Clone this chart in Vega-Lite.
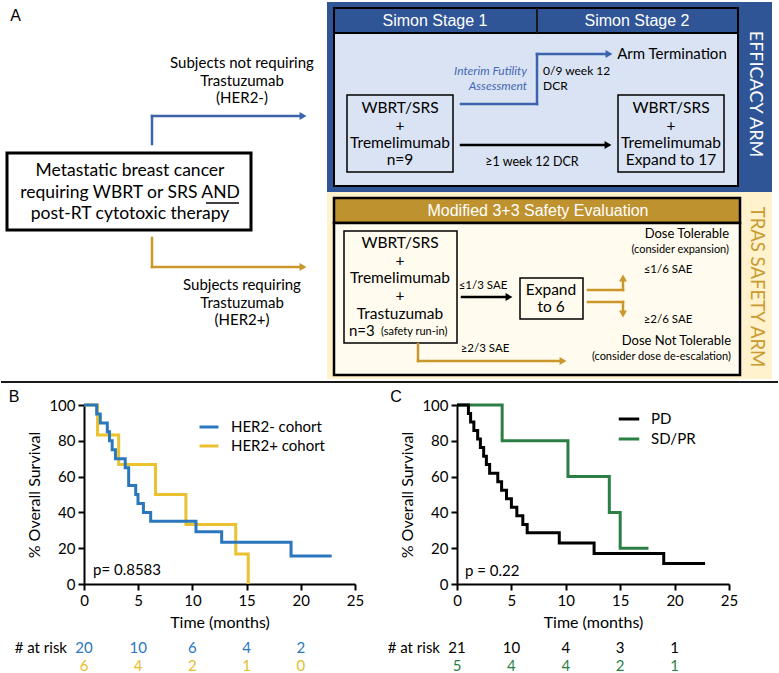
{
  "$schema": "https://vega.github.io/schema/vega-lite/v6.json",
  "background": "white",
  "padding": {"left": 0, "top": 1, "right": 3, "bottom": 3},
  "config": {
    "view": {"stroke": null},
    "font": "Lato",
    "axis": {"domainColor": "black", "domainWidth": 2, "tickColor": "black", "tickWidth": 2, "tickSize": 6, "grid": false, "labelColor": "black", "labelFont": "Lato", "labelFontSize": 15, "titleFont": "Lato", "titleFontSize": 16, "titleFontWeight": "normal", "titleColor": "black", "labelFlush": false, "labelPadding": 3, "titlePadding": 6},
    "axisY": {"labelOverlap": false, "labelSeparation": 0},
    "legend": {"labelFont": "Lato", "labelFontSize": 15, "labelColor": "black"}
  },
  "datasets": {
    "boxes": [
      {"kind": "efficacy panel", "x": 327, "y": 1, "xe": 772, "ye": 191},
      {"kind": "safety panel", "x": 327, "y": 191, "xe": 772, "ye": 378},
      {"kind": "efficacy header", "x": 334, "y": 7, "xe": 738, "ye": 32},
      {"kind": "efficacy body", "x": 334, "y": 32, "xe": 738, "ye": 185},
      {"kind": "safety header", "x": 334, "y": 197, "xe": 740, "ye": 222},
      {"kind": "safety body", "x": 334, "y": 222, "xe": 740, "ye": 374},
      {"kind": "step box", "x": 347, "y": 94, "xe": 453, "ye": 171},
      {"kind": "step box", "x": 618, "y": 94, "xe": 724, "ye": 171},
      {"kind": "step box", "x": 344, "y": 230, "xe": 457, "ye": 342},
      {"kind": "step box", "x": 520, "y": 277, "xe": 583, "ye": 318},
      {"kind": "entry box", "x": 7, "y": 152, "xe": 251, "ye": 229}
    ],
    "segs": [
      {"kind": "frame line", "x": 537, "y": 7, "xe": 537, "ye": 32},
      {"kind": "frame line", "x": 1, "y": 381, "xe": 778, "ye": 381},
      {"kind": "underline", "x": 206, "y": 202, "xe": 239, "ye": 202},
      {"kind": "blue arrow", "x": 152, "y": 143, "xe": 152, "ye": 115},
      {"kind": "blue arrow", "x": 152, "y": 115, "xe": 302, "ye": 115},
      {"kind": "gold arrow", "x": 152, "y": 237, "xe": 152, "ye": 266},
      {"kind": "gold arrow", "x": 152, "y": 266, "xe": 302, "ye": 266},
      {"kind": "blue arrow", "x": 461, "y": 103, "xe": 537, "ye": 103},
      {"kind": "blue arrow", "x": 537, "y": 103, "xe": 537, "ye": 53},
      {"kind": "blue arrow", "x": 537, "y": 53, "xe": 606, "ye": 53},
      {"kind": "black arrow", "x": 461, "y": 144, "xe": 605, "ye": 144},
      {"kind": "black arrow", "x": 462, "y": 296, "xe": 506, "ye": 296},
      {"kind": "gold arrow", "x": 588, "y": 289, "xe": 623, "ye": 289},
      {"kind": "gold arrow", "x": 623, "y": 289, "xe": 623, "ye": 279},
      {"kind": "gold arrow", "x": 588, "y": 301, "xe": 623, "ye": 301},
      {"kind": "gold arrow", "x": 623, "y": 301, "xe": 623, "ye": 311},
      {"kind": "gold arrow", "x": 418, "y": 343, "xe": 418, "ye": 360},
      {"kind": "gold arrow", "x": 418, "y": 360, "xe": 560, "ye": 360}
    ],
    "heads": [
      {"kind": "blue arrow", "dir": "right", "x": 303, "y": 115},
      {"kind": "gold arrow", "dir": "right", "x": 303, "y": 266},
      {"kind": "blue arrow", "dir": "right", "x": 609, "y": 53},
      {"kind": "black arrow", "dir": "right", "x": 608, "y": 144},
      {"kind": "black arrow", "dir": "right", "x": 509, "y": 296},
      {"kind": "gold arrow", "dir": "up", "x": 623, "y": 277},
      {"kind": "gold arrow", "dir": "down", "x": 623, "y": 313},
      {"kind": "gold arrow", "dir": "right", "x": 563, "y": 360}
    ],
    "labels": [
      {"role": "letter", "text": "A", "x": 15.5, "y": 15},
      {"role": "letter", "text": "B", "x": 14, "y": 396},
      {"role": "letter", "text": "C", "x": 396, "y": 396},
      {"role": "flow", "text": "Subjects not requiring", "x": 242, "y": 62},
      {"role": "flow", "text": "Trastuzumab", "x": 242, "y": 80},
      {"role": "flow", "text": "(HER2-)", "x": 242, "y": 97},
      {"role": "flow", "text": "Subjects requiring", "x": 242, "y": 284},
      {"role": "flow", "text": "Trastuzumab", "x": 242, "y": 302},
      {"role": "flow", "text": "(HER2+)", "x": 242, "y": 319},
      {"role": "box", "text": "WBRT/SRS", "x": 400, "y": 107},
      {"role": "box", "text": "+", "x": 400, "y": 125},
      {"role": "box", "text": "Tremelimumab", "x": 400, "y": 142},
      {"role": "box", "text": "n=9", "x": 400, "y": 159},
      {"role": "box", "text": "WBRT/SRS", "x": 671, "y": 107},
      {"role": "box", "text": "+", "x": 671, "y": 125},
      {"role": "box", "text": "Tremelimumab", "x": 671, "y": 142},
      {"role": "box", "text": "Expand to 17", "x": 671, "y": 159},
      {"role": "flow", "text": "Arm Termination", "x": 672, "y": 53},
      {"role": "box", "text": "WBRT/SRS", "x": 400, "y": 242},
      {"role": "box", "text": "+", "x": 400, "y": 260},
      {"role": "box", "text": "Tremelimumab", "x": 400, "y": 277},
      {"role": "box", "text": "+", "x": 400, "y": 295},
      {"role": "box", "text": "Trastuzumab", "x": 400, "y": 313},
      {"role": "box", "text": "Expand", "x": 551, "y": 289},
      {"role": "box", "text": "to 6", "x": 551, "y": 306},
      {"role": "flow left", "text": "n=3", "x": 349, "y": 330},
      {"role": "tiny left", "text": "(safety run-in)", "x": 381, "y": 331},
      {"role": "entry", "text": "Metastatic breast cancer", "x": 130, "y": 170},
      {"role": "entry", "text": "requiring WBRT or SRS AND", "x": 130, "y": 192},
      {"role": "entry", "text": "post-RT cytotoxic therapy", "x": 130, "y": 213},
      {"role": "header", "text": "Simon Stage 1", "x": 435, "y": 19.5},
      {"role": "header", "text": "Simon Stage 2", "x": 637, "y": 19.5},
      {"role": "header", "text": "Modified 3+3 Safety Evaluation", "x": 538, "y": 209.5},
      {"role": "arm efficacy", "text": "EFFICACY ARM", "x": 755, "y": 93},
      {"role": "arm safety", "text": "TRAS SAFETY ARM", "x": 757, "y": 286},
      {"role": "futility", "text": "Interim Futility", "x": 527, "y": 70},
      {"role": "futility", "text": "Assessment", "x": 527, "y": 85},
      {"role": "note left", "text": "0/9 week 12", "x": 543, "y": 70},
      {"role": "note left", "text": "DCR", "x": 543, "y": 85},
      {"role": "note", "text": "≥1 week 12 DCR", "x": 532, "y": 161},
      {"role": "small", "text": "≤1/3 SAE", "x": 483, "y": 285},
      {"role": "small", "text": "≤1/6 SAE", "x": 668, "y": 269},
      {"role": "small", "text": "≥2/6 SAE", "x": 668, "y": 319},
      {"role": "small", "text": "≥2/3 SAE", "x": 485, "y": 348},
      {"role": "outcome", "text": "Dose Tolerable", "x": 729, "y": 233},
      {"role": "outcome", "text": "Dose Not Tolerable", "x": 731, "y": 340},
      {"role": "outcome note", "text": "(consider expansion)", "x": 729, "y": 249},
      {"role": "outcome note", "text": "(consider dose de-escalation)", "x": 731, "y": 356}
    ],
    "survB": [
      {"group": "HER2- cohort", "t": 0, "s": 100},
      {"group": "HER2- cohort", "t": 1.17, "s": 95},
      {"group": "HER2- cohort", "t": 1.5, "s": 90},
      {"group": "HER2- cohort", "t": 2.15, "s": 85},
      {"group": "HER2- cohort", "t": 2.35, "s": 80},
      {"group": "HER2- cohort", "t": 2.6, "s": 75},
      {"group": "HER2- cohort", "t": 2.9, "s": 70},
      {"group": "HER2- cohort", "t": 3.8, "s": 65},
      {"group": "HER2- cohort", "t": 4.12, "s": 55},
      {"group": "HER2- cohort", "t": 4.77, "s": 50},
      {"group": "HER2- cohort", "t": 4.98, "s": 45},
      {"group": "HER2- cohort", "t": 5.48, "s": 40},
      {"group": "HER2- cohort", "t": 6.15, "s": 35},
      {"group": "HER2- cohort", "t": 10.33, "s": 29.2},
      {"group": "HER2- cohort", "t": 12.7, "s": 23.3},
      {"group": "HER2- cohort", "t": 19.1, "s": 15.6},
      {"group": "HER2- cohort", "t": 22.85, "s": 15.6},
      {"group": "HER2+ cohort", "t": 0, "s": 100},
      {"group": "HER2+ cohort", "t": 1.25, "s": 83.3},
      {"group": "HER2+ cohort", "t": 3.2, "s": 66.7},
      {"group": "HER2+ cohort", "t": 6.6, "s": 50},
      {"group": "HER2+ cohort", "t": 9.4, "s": 33.3},
      {"group": "HER2+ cohort", "t": 14.0, "s": 16.7},
      {"group": "HER2+ cohort", "t": 15.15, "s": 0}
    ],
    "riskB": [
      {"group": "HER2- cohort", "t": 0, "n": 20},
      {"group": "HER2- cohort", "t": 5, "n": 10},
      {"group": "HER2- cohort", "t": 10, "n": 6},
      {"group": "HER2- cohort", "t": 15, "n": 4},
      {"group": "HER2- cohort", "t": 20, "n": 2},
      {"group": "HER2+ cohort", "t": 0, "n": 6},
      {"group": "HER2+ cohort", "t": 5, "n": 4},
      {"group": "HER2+ cohort", "t": 10, "n": 2},
      {"group": "HER2+ cohort", "t": 15, "n": 1},
      {"group": "HER2+ cohort", "t": 20, "n": 0}
    ],
    "survC": [
      {"group": "PD", "t": 0, "s": 100},
      {"group": "PD", "t": 1.05, "s": 95.2},
      {"group": "PD", "t": 1.25, "s": 90.5},
      {"group": "PD", "t": 1.55, "s": 85.7},
      {"group": "PD", "t": 1.9, "s": 81},
      {"group": "PD", "t": 2.15, "s": 76.2},
      {"group": "PD", "t": 2.45, "s": 71.4},
      {"group": "PD", "t": 2.7, "s": 66.7},
      {"group": "PD", "t": 3.0, "s": 61.9},
      {"group": "PD", "t": 3.75, "s": 57.1},
      {"group": "PD", "t": 4.1, "s": 52.4},
      {"group": "PD", "t": 4.55, "s": 47.6},
      {"group": "PD", "t": 5.0, "s": 42.9},
      {"group": "PD", "t": 5.5, "s": 38.1},
      {"group": "PD", "t": 6.05, "s": 33.3},
      {"group": "PD", "t": 6.45, "s": 28.6},
      {"group": "PD", "t": 9.4, "s": 22.9},
      {"group": "PD", "t": 12.6, "s": 17.1},
      {"group": "PD", "t": 19.0, "s": 11.4},
      {"group": "PD", "t": 22.8, "s": 11.4},
      {"group": "SD/PR", "t": 0, "s": 100},
      {"group": "SD/PR", "t": 4.15, "s": 80},
      {"group": "SD/PR", "t": 10.2, "s": 60},
      {"group": "SD/PR", "t": 14.0, "s": 40},
      {"group": "SD/PR", "t": 15.0, "s": 20},
      {"group": "SD/PR", "t": 17.6, "s": 20}
    ],
    "riskC": [
      {"group": "PD", "t": 0, "n": 21},
      {"group": "PD", "t": 5, "n": 10},
      {"group": "PD", "t": 10, "n": 4},
      {"group": "PD", "t": 15, "n": 3},
      {"group": "PD", "t": 20, "n": 1},
      {"group": "SD/PR", "t": 0, "n": 5},
      {"group": "SD/PR", "t": 5, "n": 4},
      {"group": "SD/PR", "t": 10, "n": 4},
      {"group": "SD/PR", "t": 15, "n": 2},
      {"group": "SD/PR", "t": 20, "n": 1}
    ]
  },
  "spacing": 20,
  "bounds": "flush",
  "resolve": {"scale": {"color": "independent", "fill": "independent", "shape": "independent"}, "legend": {"color": "independent"}},
  "vconcat": [
    {
      "width": 695,
      "height": 384,
      "encoding": {
        "x": {"field": "x", "type": "quantitative", "scale": {"domain": [84, 779], "nice": false, "zero": false}, "axis": null},
        "y": {"field": "y", "type": "quantitative", "scale": {"domain": [0, 384], "nice": false, "zero": false, "reverse": true}, "axis": null}
      },
      "layer": [
        {
          "data": {"name": "boxes"},
          "transform": [{"filter": {"field": "kind", "oneOf": ["efficacy panel", "safety panel"]}}],
          "mark": {"type": "rect", "strokeWidth": 0},
          "encoding": {
            "x2": {"field": "xe"}, "y2": {"field": "ye"},
            "fill": {"field": "kind", "type": "nominal", "legend": null, "scale": {"domain": ["efficacy panel", "safety panel", "efficacy header", "efficacy body", "safety header", "safety body"], "range": ["#2F5597", "#FFF2CC", "#2F5597", "#DAE3F3", "#BF9230", "#FFFBEE"]}}
          }
        },
        {
          "data": {"name": "boxes"},
          "transform": [{"filter": {"field": "kind", "oneOf": ["efficacy header", "efficacy body"]}}],
          "mark": {"type": "rect", "stroke": "black", "strokeWidth": 2},
          "encoding": {
            "x2": {"field": "xe"}, "y2": {"field": "ye"},
            "fill": {"field": "kind", "type": "nominal", "legend": null, "scale": {"domain": ["efficacy panel", "safety panel", "efficacy header", "efficacy body", "safety header", "safety body"], "range": ["#2F5597", "#FFF2CC", "#2F5597", "#DAE3F3", "#BF9230", "#FFFBEE"]}}
          }
        },
        {
          "data": {"name": "boxes"},
          "transform": [{"filter": {"field": "kind", "oneOf": ["safety header", "safety body"]}}],
          "mark": {"type": "rect", "stroke": "black", "strokeWidth": 2.5},
          "encoding": {
            "x2": {"field": "xe"}, "y2": {"field": "ye"},
            "fill": {"field": "kind", "type": "nominal", "legend": null, "scale": {"domain": ["efficacy panel", "safety panel", "efficacy header", "efficacy body", "safety header", "safety body"], "range": ["#2F5597", "#FFF2CC", "#2F5597", "#DAE3F3", "#BF9230", "#FFFBEE"]}}
          }
        },
        {
          "data": {"name": "boxes"},
          "transform": [{"filter": "datum.kind === 'step box'"}],
          "mark": {"type": "rect", "fill": "transparent", "stroke": "black", "strokeWidth": 1.5},
          "encoding": {"x2": {"field": "xe"}, "y2": {"field": "ye"}}
        },
        {
          "data": {"name": "boxes"},
          "transform": [{"filter": "datum.kind === 'entry box'"}],
          "mark": {"type": "rect", "fill": "white", "stroke": "black", "strokeWidth": 3},
          "encoding": {"x2": {"field": "xe"}, "y2": {"field": "ye"}}
        },
        {
          "data": {"name": "segs"},
          "transform": [{"filter": {"field": "kind", "oneOf": ["blue arrow", "gold arrow", "black arrow"]}}],
          "mark": {"type": "rule", "strokeWidth": 2.5, "strokeCap": "square"},
          "encoding": {
            "x2": {"field": "xe"}, "y2": {"field": "ye"},
            "color": {"field": "kind", "type": "nominal", "legend": null, "scale": {"domain": ["blue arrow", "gold arrow", "black arrow"], "range": ["#3B64AD", "#C9972B", "#000000"]}}
          }
        },
        {
          "data": {"name": "segs"},
          "transform": [{"filter": "datum.kind === 'frame line'"}],
          "mark": {"type": "rule", "strokeWidth": 2, "color": "#1a1a1a"},
          "encoding": {"x2": {"field": "xe"}, "y2": {"field": "ye"}}
        },
        {
          "data": {"name": "segs"},
          "transform": [{"filter": "datum.kind === 'underline'"}],
          "mark": {"type": "rule", "strokeWidth": 1.3, "color": "black"},
          "encoding": {"x2": {"field": "xe"}, "y2": {"field": "ye"}}
        },
        {
          "data": {"name": "heads"},
          "mark": {"type": "point", "filled": true, "size": 64, "opacity": 1},
          "encoding": {
            "color": {"field": "kind", "type": "nominal", "legend": null, "scale": {"domain": ["blue arrow", "gold arrow", "black arrow"], "range": ["#3B64AD", "#C9972B", "#000000"]}},
            "shape": {"field": "dir", "type": "nominal", "legend": null, "scale": {"domain": ["right", "up", "down"], "range": ["triangle-right", "triangle-up", "triangle-down"]}}
          }
        },
        {
          "data": {"name": "labels"},
          "transform": [{"filter": "datum.role === 'letter'"}],
          "mark": {"type": "text", "font": "Liberation Sans", "fontSize": 16, "color": "black", "align": "center", "baseline": "middle"},
          "encoding": {"text": {"field": "text"}}
        },
        {
          "data": {"name": "labels"},
          "transform": [{"filter": "datum.role === 'flow'"}],
          "mark": {"type": "text", "font": "Lato", "fontSize": 15, "color": "black", "align": "center", "baseline": "middle"},
          "encoding": {"text": {"field": "text"}}
        },
        {
          "data": {"name": "labels"},
          "transform": [{"filter": "datum.role === 'box'"}],
          "mark": {"type": "text", "font": "Lato", "fontSize": 15.5, "color": "black", "align": "center", "baseline": "middle"},
          "encoding": {"text": {"field": "text"}}
        },
        {
          "data": {"name": "labels"},
          "transform": [{"filter": "datum.role === 'flow left'"}],
          "mark": {"type": "text", "font": "Lato", "fontSize": 15, "color": "black", "align": "left", "baseline": "middle"},
          "encoding": {"text": {"field": "text"}}
        },
        {
          "data": {"name": "labels"},
          "transform": [{"filter": "datum.role === 'tiny left'"}],
          "mark": {"type": "text", "font": "Lato", "fontSize": 11, "color": "black", "align": "left", "baseline": "middle"},
          "encoding": {"text": {"field": "text"}}
        },
        {
          "data": {"name": "labels"},
          "transform": [{"filter": "datum.role === 'entry'"}],
          "mark": {"type": "text", "font": "Lato", "fontSize": 17.5, "color": "black", "align": "center", "baseline": "middle"},
          "encoding": {"text": {"field": "text"}}
        },
        {
          "data": {"name": "labels"},
          "transform": [{"filter": "datum.role === 'header'"}],
          "mark": {"type": "text", "font": "Liberation Sans", "fontSize": 16, "color": "white", "align": "center", "baseline": "middle"},
          "encoding": {"text": {"field": "text"}}
        },
        {
          "data": {"name": "labels"},
          "transform": [{"filter": "datum.role === 'arm efficacy'"}],
          "mark": {"type": "text", "font": "Lato", "fontSize": 18, "color": "white", "align": "center", "baseline": "middle", "angle": 90},
          "encoding": {"text": {"field": "text"}}
        },
        {
          "data": {"name": "labels"},
          "transform": [{"filter": "datum.role === 'arm safety'"}],
          "mark": {"type": "text", "font": "Lato", "fontSize": 18.5, "color": "#C99A30", "align": "center", "baseline": "middle", "angle": 90},
          "encoding": {"text": {"field": "text"}}
        },
        {
          "data": {"name": "labels"},
          "transform": [{"filter": "datum.role === 'futility'"}],
          "mark": {"type": "text", "font": "Lato", "fontSize": 12, "fontStyle": "italic", "color": "#4468B4", "align": "right", "baseline": "middle"},
          "encoding": {"text": {"field": "text"}}
        },
        {
          "data": {"name": "labels"},
          "transform": [{"filter": "datum.role === 'note left'"}],
          "mark": {"type": "text", "font": "Lato", "fontSize": 12, "color": "black", "align": "left", "baseline": "middle"},
          "encoding": {"text": {"field": "text"}}
        },
        {
          "data": {"name": "labels"},
          "transform": [{"filter": "datum.role === 'note'"}],
          "mark": {"type": "text", "font": "Lato", "fontSize": 12.5, "color": "black", "align": "center", "baseline": "middle"},
          "encoding": {"text": {"field": "text"}}
        },
        {
          "data": {"name": "labels"},
          "transform": [{"filter": "datum.role === 'small'"}],
          "mark": {"type": "text", "font": "Lato", "fontSize": 11.5, "color": "black", "align": "center", "baseline": "middle"},
          "encoding": {"text": {"field": "text"}}
        },
        {
          "data": {"name": "labels"},
          "transform": [{"filter": "datum.role === 'outcome'"}],
          "mark": {"type": "text", "font": "Lato", "fontSize": 13, "color": "black", "align": "right", "baseline": "middle"},
          "encoding": {"text": {"field": "text"}}
        },
        {
          "data": {"name": "labels"},
          "transform": [{"filter": "datum.role === 'outcome note'"}],
          "mark": {"type": "text", "font": "Lato", "fontSize": 11, "color": "black", "align": "right", "baseline": "middle"},
          "encoding": {"text": {"field": "text"}}
        }
      ]
    },
    {
      "spacing": 102,
      "bounds": "flush",
      "resolve": {"scale": {"color": "independent"}, "legend": {"color": "independent"}},
      "hconcat": [
        {
          "width": 271,
          "height": 179,
          "layer": [
            {
              "data": {"name": "survB"},
              "transform": [{"filter": "datum.group === 'HER2+ cohort'"}],
              "mark": {"type": "line", "interpolate": "step-after", "strokeWidth": 3},
              "encoding": {
                "x": {"field": "t", "type": "quantitative", "scale": {"domain": [0, 25], "nice": false, "zero": false}, "axis": {"values": [0, 5, 10, 15, 20, 25], "title": "Time (months)"}},
                "y": {"field": "s", "type": "quantitative", "scale": {"domain": [0, 100], "nice": false, "zero": false}, "axis": {"tickCount": 5, "title": "% Overall Survival", "labelOverlap": false}},
                "color": {"field": "group", "type": "nominal", "scale": {"domain": ["HER2- cohort", "HER2+ cohort"], "range": ["#2A77BD", "#EAC12E"]}, "legend": {"title": null, "orient": "none", "legendX": 114, "legendY": 11, "symbolType": "stroke", "symbolSize": 360, "symbolStrokeWidth": 3, "labelOffset": 11, "rowPadding": -1}}
              }
            },
            {
              "data": {"name": "survB"},
              "transform": [{"filter": "datum.group === 'HER2- cohort'"}],
              "mark": {"type": "line", "interpolate": "step-after", "strokeWidth": 3},
              "encoding": {
                "x": {"field": "t", "type": "quantitative", "axis": {"values": [0, 5, 10, 15, 20, 25], "title": "Time (months)"}},
                "y": {"field": "s", "type": "quantitative", "axis": {"tickCount": 5, "title": "% Overall Survival", "labelOverlap": false}},
                "color": {"field": "group", "type": "nominal", "scale": {"domain": ["HER2- cohort", "HER2+ cohort"], "range": ["#2A77BD", "#EAC12E"]}, "legend": {"title": null, "orient": "none", "legendX": 114, "legendY": 11, "symbolType": "stroke", "symbolSize": 360, "symbolStrokeWidth": 3, "labelOffset": 11, "rowPadding": -1}}
              }
            },
            {
              "data": {"name": "riskB"},
              "transform": [{"filter": "datum.group === 'HER2- cohort'"}],
              "mark": {"type": "text", "fontSize": 15, "color": "#2A77BD", "baseline": "middle"},
              "encoding": {
                "x": {"field": "t", "type": "quantitative", "axis": {"values": [0, 5, 10, 15, 20, 25], "title": "Time (months)"}},
                "y": {"datum": -36, "type": "quantitative", "axis": {"tickCount": 5, "title": "% Overall Survival", "labelOverlap": false}},
                "text": {"field": "n", "type": "quantitative"}
              }
            },
            {
              "data": {"name": "riskB"},
              "transform": [{"filter": "datum.group === 'HER2+ cohort'"}],
              "mark": {"type": "text", "fontSize": 15, "color": "#E5BD2A", "baseline": "middle"},
              "encoding": {
                "x": {"field": "t", "type": "quantitative", "axis": {"values": [0, 5, 10, 15, 20, 25], "title": "Time (months)"}},
                "y": {"datum": -46, "type": "quantitative", "axis": {"tickCount": 5, "title": "% Overall Survival", "labelOverlap": false}},
                "text": {"field": "n", "type": "quantitative"}
              }
            },
            {
              "data": {"values": [{"label": "# at risk"}]},
              "mark": {"type": "text", "fontSize": 15, "color": "black", "align": "right", "baseline": "middle", "dx": -17},
              "encoding": {
                "x": {"datum": 0, "type": "quantitative", "axis": {"values": [0, 5, 10, 15, 20, 25], "title": "Time (months)"}},
                "y": {"datum": -36, "type": "quantitative", "axis": {"tickCount": 5, "title": "% Overall Survival", "labelOverlap": false}},
                "text": {"field": "label"}
              }
            },
            {
              "data": {"values": [{"label": "p= 0.8583"}]},
              "mark": {"type": "text", "fontSize": 15, "color": "black", "align": "left", "baseline": "middle"},
              "encoding": {
                "x": {"datum": 0.83, "type": "quantitative", "axis": {"values": [0, 5, 10, 15, 20, 25], "title": "Time (months)"}},
                "y": {"datum": 7.8, "type": "quantitative", "axis": {"tickCount": 5, "title": "% Overall Survival", "labelOverlap": false}},
                "text": {"field": "label"}
              }
            }
          ]
        },
        {
          "width": 272,
          "height": 179,
          "layer": [
            {
              "data": {"name": "survC"},
              "transform": [{"filter": "datum.group === 'SD/PR'"}],
              "mark": {"type": "line", "interpolate": "step-after", "strokeWidth": 3},
              "encoding": {
                "x": {"field": "t", "type": "quantitative", "scale": {"domain": [0, 25], "nice": false, "zero": false}, "axis": {"values": [0, 5, 10, 15, 20, 25], "title": "Time (months)"}},
                "y": {"field": "s", "type": "quantitative", "scale": {"domain": [0, 100], "nice": false, "zero": false}, "axis": {"tickCount": 5, "title": "% Overall Survival", "labelOverlap": false}},
                "color": {"field": "group", "type": "nominal", "scale": {"domain": ["PD", "SD/PR"], "range": ["#000000", "#2B7F45"]}, "legend": {"title": null, "orient": "none", "legendX": 160, "legendY": 2, "symbolType": "stroke", "symbolSize": 420, "symbolStrokeWidth": 3, "labelOffset": 10, "rowPadding": -1}}
              }
            },
            {
              "data": {"name": "survC"},
              "transform": [{"filter": "datum.group === 'PD'"}],
              "mark": {"type": "line", "interpolate": "step-after", "strokeWidth": 3},
              "encoding": {
                "x": {"field": "t", "type": "quantitative", "axis": {"values": [0, 5, 10, 15, 20, 25], "title": "Time (months)"}},
                "y": {"field": "s", "type": "quantitative", "axis": {"tickCount": 5, "title": "% Overall Survival", "labelOverlap": false}},
                "color": {"field": "group", "type": "nominal", "scale": {"domain": ["PD", "SD/PR"], "range": ["#000000", "#2B7F45"]}, "legend": {"title": null, "orient": "none", "legendX": 160, "legendY": 2, "symbolType": "stroke", "symbolSize": 420, "symbolStrokeWidth": 3, "labelOffset": 10, "rowPadding": -1}}
              }
            },
            {
              "data": {"name": "riskC"},
              "transform": [{"filter": "datum.group === 'PD'"}],
              "mark": {"type": "text", "fontSize": 15, "color": "black", "baseline": "middle"},
              "encoding": {
                "x": {"field": "t", "type": "quantitative", "axis": {"values": [0, 5, 10, 15, 20, 25], "title": "Time (months)"}},
                "y": {"datum": -36, "type": "quantitative", "axis": {"tickCount": 5, "title": "% Overall Survival", "labelOverlap": false}},
                "text": {"field": "n", "type": "quantitative"}
              }
            },
            {
              "data": {"name": "riskC"},
              "transform": [{"filter": "datum.group === 'SD/PR'"}],
              "mark": {"type": "text", "fontSize": 15, "color": "#2B7F45", "baseline": "middle"},
              "encoding": {
                "x": {"field": "t", "type": "quantitative", "axis": {"values": [0, 5, 10, 15, 20, 25], "title": "Time (months)"}},
                "y": {"datum": -46, "type": "quantitative", "axis": {"tickCount": 5, "title": "% Overall Survival", "labelOverlap": false}},
                "text": {"field": "n", "type": "quantitative"}
              }
            },
            {
              "data": {"values": [{"label": "# at risk"}]},
              "mark": {"type": "text", "fontSize": 15, "color": "black", "align": "right", "baseline": "middle", "dx": -17},
              "encoding": {
                "x": {"datum": 0, "type": "quantitative", "axis": {"values": [0, 5, 10, 15, 20, 25], "title": "Time (months)"}},
                "y": {"datum": -36, "type": "quantitative", "axis": {"tickCount": 5, "title": "% Overall Survival", "labelOverlap": false}},
                "text": {"field": "label"}
              }
            },
            {
              "data": {"values": [{"label": "p = 0.22"}]},
              "mark": {"type": "text", "fontSize": 15, "color": "black", "align": "left", "baseline": "middle"},
              "encoding": {
                "x": {"datum": 0.74, "type": "quantitative", "axis": {"values": [0, 5, 10, 15, 20, 25], "title": "Time (months)"}},
                "y": {"datum": 7.2, "type": "quantitative", "axis": {"tickCount": 5, "title": "% Overall Survival", "labelOverlap": false}},
                "text": {"field": "label"}
              }
            }
          ]
        }
      ]
    }
  ]
}
